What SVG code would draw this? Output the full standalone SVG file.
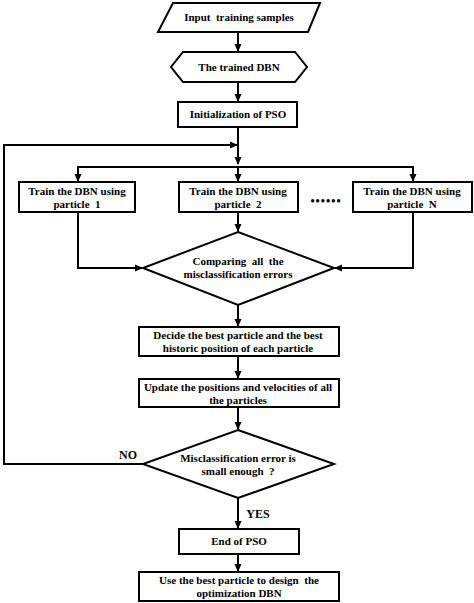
<svg xmlns="http://www.w3.org/2000/svg" width="474" height="603" viewBox="0 0 474 603" xml:space="preserve">
<style>
.s{fill:#fff;stroke:#000;stroke-width:2}
.c{fill:none;stroke:#000;stroke-width:2}
.t{font-family:"Liberation Serif","Times New Roman",serif;font-weight:bold;font-size:11px;fill:#000;text-anchor:middle;white-space:pre}
</style>
<defs>
<marker id="a" markerWidth="8" markerHeight="8" refX="7" refY="4" orient="auto" markerUnits="userSpaceOnUse">
<path d="M0,0.5 L8,4 L0,7.5 Z" fill="#000"/>
</marker>
</defs>
<rect width="474" height="603" fill="#fff"/>
<g id="connectors">
<path class="c" d="M238,32 V51" marker-end="url(#a)"/>
<path class="c" d="M238,82 V101" marker-end="url(#a)"/>
<path class="c" d="M238,127 V164" marker-end="url(#a)"/>
<path class="c" d="M78,181 V167 H413 V181" marker-end="url(#a)"/>
<path class="c" d="M78,167 V181" marker-end="url(#a)"/>
<path class="c" d="M238,167 V181" marker-end="url(#a)"/>
<path class="c" d="M238,212 V231" marker-end="url(#a)"/>
<path class="c" d="M78,212 V268 H142" marker-end="url(#a)"/>
<path class="c" d="M413,212 V268 H335" marker-end="url(#a)"/>
<path class="c" d="M238,305 V326" marker-end="url(#a)"/>
<path class="c" d="M238,356 V378" marker-end="url(#a)"/>
<path class="c" d="M238,407 V429" marker-end="url(#a)"/>
<path class="c" d="M143,464 H4 V145 H237" marker-end="url(#a)"/>
<path class="c" d="M238,498 V528" marker-end="url(#a)"/>
<path class="c" d="M238,554 V571" marker-end="url(#a)"/>
<text class="t" x="128" y="459" style="font-size:12px">NO</text>
<text class="t" x="258" y="518" style="font-size:12px">YES</text>
</g>
<g id="input">
<polygon class="s" points="173,3 320,3 308,32 158,32"/>
<text class="t" x="239" y="21">Input  training samples</text>
</g>
<g id="trained">
<polygon class="s" points="183,52 295,52 307,67 295,82 183,82 171,67"/>
<text class="t" x="239" y="71">The trained DBN</text>
</g>
<g id="init">
<rect class="s" x="178" y="102" width="119" height="25"/>
<text class="t" x="238" y="118">Initialization of PSO</text>
</g>
<g id="train1">
<rect class="s" x="19" y="182" width="116" height="30"/>
<text class="t" x="77" y="195">Train the DBN using</text>
<text class="t" x="77" y="208">particle  1</text>
</g>
<g id="train2">
<rect class="s" x="179" y="182" width="119" height="30"/>
<text class="t" x="238" y="195">Train the DBN using</text>
<text class="t" x="238" y="208">particle  2</text>
</g>
<g id="dots">
<text class="t" x="326" y="205" style="font-size:12px;letter-spacing:1px">••••••</text>
</g>
<g id="trainN">
<rect class="s" x="353" y="182" width="119" height="30"/>
<text class="t" x="412" y="195">Train the DBN using</text>
<text class="t" x="412" y="208">particle  N</text>
</g>
<g id="compare">
<polygon class="s" points="238,232 334,268 238,305 143,268"/>
<text class="t" x="238" y="265">Comparing  all  the</text>
<text class="t" x="238" y="278">misclassification errors</text>
</g>
<g id="decide">
<rect class="s" x="139" y="327" width="200" height="29"/>
<text class="t" x="238" y="339">Decide the best particle and the best</text>
<text class="t" x="238" y="352">historic position of each particle</text>
</g>
<g id="update">
<rect class="s" x="139" y="379" width="200" height="28"/>
<text class="t" x="238" y="391">Update the positions and velocities of all</text>
<text class="t" x="238" y="404">the particles</text>
</g>
<g id="check">
<polygon class="s" points="238,430 334,464 238,498 143,464"/>
<text class="t" x="238" y="462">Misclassification error is</text>
<text class="t" x="238" y="475">small enough  ?</text>
</g>
<g id="end">
<rect class="s" x="179" y="529" width="120" height="25"/>
<text class="t" x="239" y="545">End of PSO</text>
</g>
<g id="use">
<rect class="s" x="139" y="572" width="200" height="29"/>
<text class="t" x="239" y="584">Use the best particle to design  the</text>
<text class="t" x="239" y="597">optimization DBN</text>
</g>
</svg>
